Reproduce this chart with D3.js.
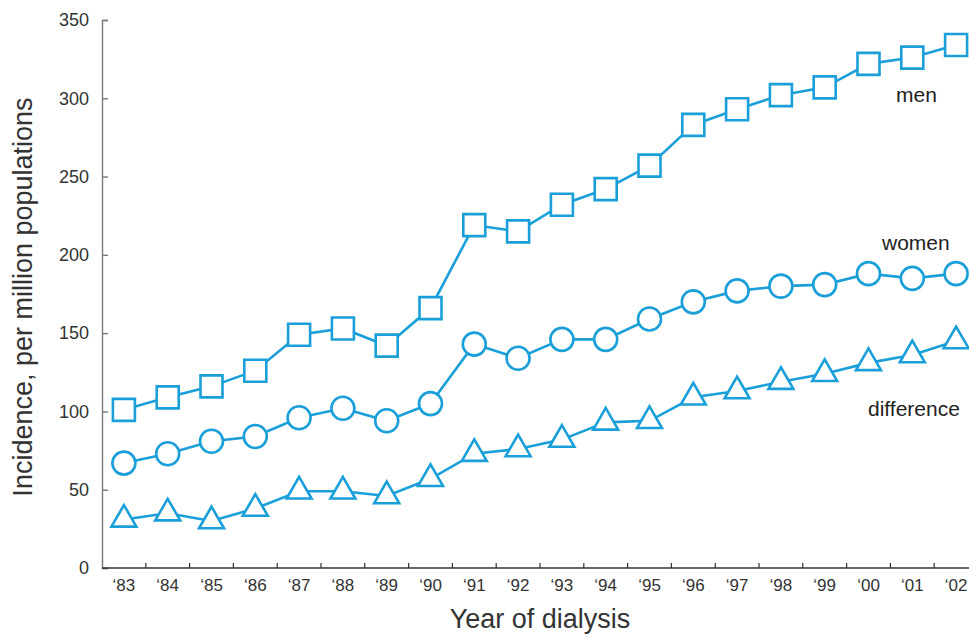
<!DOCTYPE html>
<html>
<head>
<meta charset="utf-8">
<script src="https://cdn.jsdelivr.net/npm/d3@7/dist/d3.min.js"></script>
<style>
html,body{margin:0;padding:0;background:#fff;}
svg{display:block;font-family:"Liberation Sans",Arial,Helvetica,sans-serif;}
</style>
</head>
<body>
<svg id="chart" width="969" height="634"></svg>
<script>
const years = ["‘83","‘84","‘85","‘86","‘87","‘88","‘89","‘90","‘91","‘92","‘93","‘94","‘95","‘96","‘97","‘98","‘99","‘00","‘01","‘02"];
const men = [101,109,116,126,149,153,142,166,219,215,232,242,257,283,293,302,307,322,326,334];
const women = [67,73,81,84,96,102,94,105,143,134,146,146,159,170,177,180,181,188,185,188];
const difference = [31,35,30,38,49,49,46,57,73,76,82,93,94,109,113,119,124,131,136,145];
const seriesNames = ["men","women","difference"];
const yTicks = [0,50,100,150,200,250,300,350];

const color = "#1a9fd9";
const svg = d3.select("#chart");
const x0 = 102, x1 = 978, yBottom = 568, yTop = 20;

const x = d3.scaleBand().domain(years).range([x0, x1]);
const y = d3.scaleLinear().domain([0, 350]).range([yBottom, yTop]);

// Y axis (ticks point inward)
const yAxis = svg.append("g").attr("transform", `translate(${x0},0)`)
  .call(d3.axisLeft(y).tickValues(yTicks).tickSize(-6).tickPadding(13));
yAxis.select(".domain").attr("stroke", "#777").attr("stroke-width", 1.4);
yAxis.selectAll(".tick line").attr("stroke", "#777").attr("stroke-width", 1.4);
yAxis.selectAll(".tick text").attr("font-size", 18).attr("fill", "#333")
  .attr("font-family", "Liberation Sans, Arial, sans-serif");

// X axis: line + inner ticks at band boundaries
const xg = svg.append("g").attr("transform", `translate(0,${yBottom})`);
xg.append("line").attr("x1", x0).attr("x2", x1).attr("y1", 0).attr("y2", 0)
  .attr("stroke", "#333").attr("stroke-width", 1.3);
years.forEach((yr, i) => {
  if (i === 0) return;
  const bx = x(yr);
  xg.append("line").attr("x1", bx).attr("x2", bx).attr("y1", 0).attr("y2", -5)
    .attr("stroke", "#333").attr("stroke-width", 1.2);
});
xg.selectAll("text.xl").data(years).join("text").attr("class", "xl")
  .attr("x", d => x(d) + x.bandwidth() / 2).attr("y", 23)
  .attr("text-anchor", "middle").attr("font-size", 17).attr("fill", "#333")
  .text(d => d);

// Axis titles
svg.append("text").attr("x", 540).attr("y", 628).attr("text-anchor", "middle")
  .attr("font-size", 27).attr("fill", "#333").text("Year of dialysis");
svg.append("text").attr("transform", "translate(32,297) rotate(-90)")
  .attr("text-anchor", "middle").attr("font-size", 27).attr("fill", "#333")
  .text("Incidence, per million populations");

// Series
const data = [men, women, difference];
const symbols = [d3.symbolSquare, d3.symbolCircle, d3.symbolTriangle];
const sizes = [22 * 22, Math.PI * 11.5 * 11.5, 270];
const line = d3.line().x((d, i) => x(years[i]) + x.bandwidth() / 2).y(d => y(d));

data.forEach((vals, k) => {
  const g = svg.append("g");
  g.append("path").datum(vals).attr("d", line).attr("fill", "none")
    .attr("stroke", color).attr("stroke-width", 2.6);
  g.selectAll("path.m").data(vals).join("path").attr("class", "m")
    .attr("transform", (d, i) => `translate(${x(years[i]) + x.bandwidth() / 2},${y(d)})`)
    .attr("d", d3.symbol().type(symbols[k]).size(sizes[k]))
    .attr("fill", "#fff").attr("stroke", color).attr("stroke-width", 2.6);
});

// Series labels
const labelPos = [[896, 102], [882, 250], [868, 416]];
seriesNames.forEach((n, k) => {
  svg.append("text").attr("x", labelPos[k][0]).attr("y", labelPos[k][1])
    .attr("text-anchor", "start").attr("font-size", 21).attr("fill", "#222").text(n);
});
</script>
</body>
</html>
